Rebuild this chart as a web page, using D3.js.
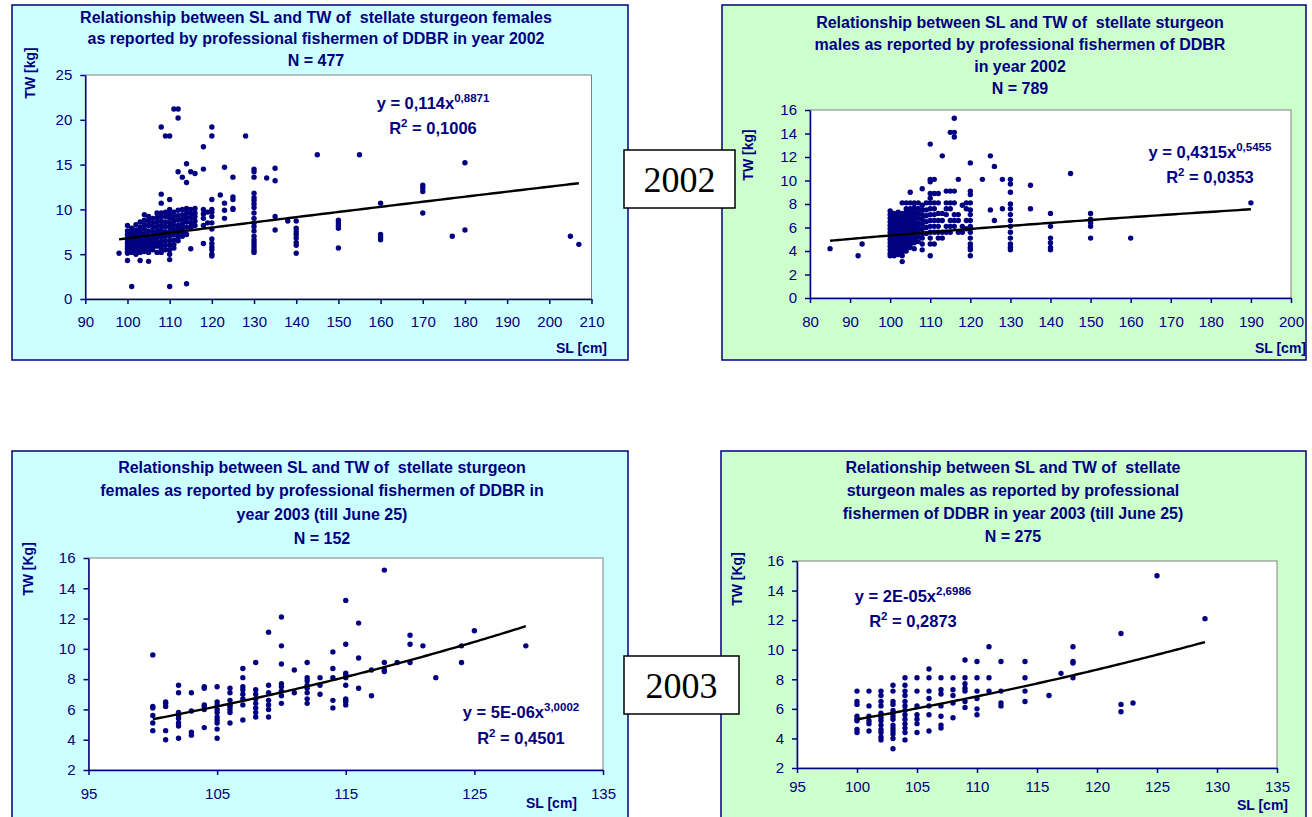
<!DOCTYPE html>
<html>
<head>
<meta charset="utf-8">
<script src="https://cdn.jsdelivr.net/npm/d3@7"></script>
<style>
  body { margin: 0; background: #fff; }
  text { white-space: pre; }
</style>
</head>
<body>
<svg id="chart" width="1312" height="817"></svg>
<script>
// --- data: [SL, [TW values at that SL]] ---
const fem2002 = [
  [98, [5.1]],
  [100, [8.2, 7.6, 7.2, 6.8, 6.5, 6.2, 5.9, 5.6, 5.3, 5.1, 4.3]],
  [101, [7.9, 7.4, 7.0, 6.6, 6.3, 6.0, 5.7, 5.4, 5.2, 1.4]],
  [102, [8.3, 7.7, 7.3, 6.9, 6.6, 6.1, 5.8, 5.5, 5.0]],
  [103, [8.6, 8.0, 7.5, 7.1, 6.8, 6.4, 6.0, 5.6, 5.2, 4.3]],
  [104, [9.4, 8.8, 8.3, 7.8, 7.3, 6.9, 6.5, 6.1, 5.7, 5.3]],
  [105, [9.2, 8.7, 8.2, 7.6, 7.1, 6.7, 6.3, 5.9, 5.4, 5.2, 4.2]],
  [106, [9.0, 8.5, 8.0, 7.5, 7.0, 6.6, 6.2, 5.8, 5.5]],
  [107, [9.6, 9.1, 8.6, 8.1, 7.6, 7.2, 6.8, 6.3, 5.9, 5.2]],
  [108, [19.2, 11.7, 10.7, 9.6, 9.2, 8.7, 8.2, 7.7, 7.3, 6.9, 6.4, 6.0, 5.6, 5.2]],
  [109, [18.2, 9.7, 9.2, 8.6, 8.1, 7.5, 7.0, 6.5, 6.0, 5.5]],
  [110, [18.2, 11.1, 10.0, 9.5, 9.0, 8.5, 8.0, 7.5, 7.0, 6.5, 6.0, 5.5, 5.0, 4.4, 1.4]],
  [111, [21.2, 9.7, 9.2, 8.7, 8.2, 7.7, 7.2, 6.6, 6.1, 5.7]],
  [112, [21.2, 20.2, 14.2, 9.9, 9.3, 8.8, 8.2, 7.8, 7.3, 6.9, 6.5]],
  [113, [13.6, 10.0, 9.4, 8.9, 8.4, 7.9, 7.5, 7.0]],
  [114, [15.1, 13.0, 10.1, 9.6, 9.1, 8.6, 8.0, 7.2, 1.7]],
  [115, [14.2, 10.0, 9.5, 9.0, 8.5, 8.0, 5.6]],
  [116, [14.0, 10.1, 9.6, 9.2, 8.7, 8.2]],
  [118, [17.0, 14.5, 10.0, 9.5, 9.0, 8.2, 6.2]],
  [119, [9.7, 8.5]],
  [120, [19.2, 18.2, 11.1, 10.0, 9.7, 9.2, 8.5, 7.8, 6.7, 6.2, 5.8, 5.5, 5.0, 4.8]],
  [122, [11.6]],
  [123, [14.7, 10.7, 9.9, 9.0]],
  [125, [13.6, 11.4, 11.1, 10.1, 10.0]],
  [128, [18.2]],
  [130, [14.5, 14.2, 13.6, 11.8, 11.3, 11.0, 10.6, 10.2, 9.6, 9.0, 8.5, 8.1, 7.6, 7.0, 6.6, 6.3, 6.0, 5.7, 5.4, 5.2]],
  [133, [13.5]],
  [135, [14.6, 13.2, 9.2, 7.7]],
  [138, [8.7]],
  [140, [8.7, 7.9, 7.5, 7.2, 6.8, 6.3, 6.0, 5.1]],
  [145, [16.1]],
  [150, [8.8, 8.5, 8.2, 7.9, 5.7]],
  [155, [16.1]],
  [160, [10.7, 7.2, 6.9, 6.6]],
  [170, [12.7, 12.4, 12.0, 9.6]],
  [177, [7.0]],
  [180, [15.2, 7.7]],
  [205, [7.0]],
  [207, [6.1]]
];

const male2002 = [
  [85, [4.2]],
  [92, [3.6]],
  [93, [4.6]],
  [100, [7.4, 7.1, 6.8, 6.5, 6.2, 5.9, 5.6, 5.3, 5.0, 4.7, 4.4, 4.1, 3.8, 3.6]],
  [101, [7.2, 6.9, 6.6, 6.3, 6.0, 5.7, 5.4, 5.1, 4.8, 4.5, 4.2, 3.9, 3.6]],
  [102, [7.3, 7.0, 6.7, 6.4, 6.1, 5.8, 5.5, 5.2, 4.9, 4.6, 4.3, 4.0, 3.7]],
  [103, [8.1, 7.2, 6.9, 6.6, 6.3, 6.0, 5.7, 5.4, 5.1, 4.8, 4.5, 4.2, 3.9, 3.6, 3.1]],
  [104, [8.1, 7.6, 7.3, 7.0, 6.7, 6.4, 6.1, 5.8, 5.5, 5.2, 4.9, 4.6, 4.3, 4.0]],
  [105, [9.0, 8.1, 7.6, 7.3, 7.0, 6.7, 6.4, 6.1, 5.8, 5.5, 5.2, 4.9, 4.6, 4.3]],
  [106, [8.1, 7.7, 7.4, 7.1, 6.8, 6.5, 6.2, 5.9, 5.6, 5.3, 5.0, 4.7, 4.2]],
  [107, [8.1, 7.6, 7.2, 6.8, 6.4, 6.0, 5.6, 5.2, 4.8]],
  [108, [9.3, 7.9, 7.5, 7.1, 6.7, 6.3, 5.9, 5.5, 5.1, 4.6, 4.1]],
  [109, [8.1, 7.5, 7.0, 6.5, 6.0, 5.5]],
  [110, [13.1, 10.1, 9.9, 8.9, 8.5, 8.1, 7.6, 7.1, 6.6, 6.1, 5.6, 5.1, 4.6, 3.6]],
  [111, [10.1, 8.9, 8.1, 7.6, 7.1, 6.6, 6.1, 5.6, 4.6]],
  [112, [8.9, 8.1, 7.2, 6.6, 6.1, 5.6, 5.1]],
  [113, [12.1, 7.2, 6.6, 5.6, 5.1]],
  [114, [9.1, 8.1, 7.6, 7.1, 6.1, 5.6]],
  [115, [14.1, 9.1, 8.1, 7.6, 6.6, 6.1, 5.6]],
  [116, [15.3, 14.1, 13.7, 9.1, 8.1, 7.1, 6.6, 6.1]],
  [117, [10.1, 7.1, 6.6, 5.6]],
  [118, [7.9, 6.1, 5.6]],
  [119, [8.1, 7.6, 6.6, 5.9]],
  [120, [11.5, 9.1, 8.8, 8.1, 7.5, 7.1, 6.6, 6.1, 5.6, 5.1, 4.6, 4.3, 4.1, 3.6]],
  [123, [10.1]],
  [125, [12.1, 7.5]],
  [126, [11.2, 6.6]],
  [128, [10.1, 7.6]],
  [130, [10.1, 9.7, 9.0, 8.0, 7.6, 7.1, 6.6, 6.1, 5.6, 5.1, 4.6, 4.3, 4.1]],
  [135, [9.6, 7.6]],
  [140, [7.2, 6.1, 5.1, 4.7, 4.3, 4.1]],
  [145, [10.6]],
  [150, [7.2, 6.7, 6.4, 6.1, 5.1]],
  [160, [5.1]],
  [190, [8.1]]
];

const fem2003 = [
  [100, [9.6, 6.2, 6.1, 5.6, 5.1, 4.6]],
  [101, [6.5, 6.4, 6.2, 4.6, 4.0]],
  [102, [7.6, 7.1, 5.8, 5.6, 5.4, 5.1, 4.9, 4.1]],
  [103, [7.1, 5.9, 4.5, 4.3]],
  [104, [7.5, 7.4, 6.3, 6.2, 6.0, 4.8]],
  [105, [7.5, 6.5, 6.3, 6.0, 5.8, 5.5, 5.3, 5.1, 4.7, 4.1]],
  [106, [7.4, 7.1, 6.6, 6.3, 6.2, 6.0, 5.8, 5.1]],
  [107, [8.7, 8.1, 7.5, 7.3, 7.0, 6.7, 6.3, 5.3]],
  [108, [9.1, 7.3, 7.0, 6.7, 6.4, 6.1, 5.8, 5.5]],
  [109, [11.1, 7.6, 7.1, 6.6, 6.3, 6.0, 5.5]],
  [110, [12.1, 10.2, 9.0, 7.7, 7.5, 7.2, 6.9, 6.4]],
  [111, [8.6, 7.1]],
  [112, [9.1, 8.1, 7.9, 7.6, 7.4, 7.1, 6.7, 6.4]],
  [113, [8.1, 7.6, 7.0]],
  [114, [9.8, 8.7, 8.1, 6.6, 6.1]],
  [115, [13.2, 10.3, 8.4, 8.3, 8.1, 7.6, 6.7, 6.6, 6.5, 6.3]],
  [116, [11.7, 9.4, 7.4]],
  [117, [8.6, 6.9]],
  [118, [15.2, 9.1, 8.6, 8.5]],
  [119, [9.1]],
  [120, [10.9, 10.3, 9.1]],
  [121, [10.2]],
  [122, [8.1]],
  [124, [10.2, 9.1]],
  [125, [11.2]],
  [129, [10.2]]
];

const male2003 = [
  [100, [7.2, 6.5, 6.3, 5.5, 5.3, 5.2, 4.6, 4.4]],
  [101, [7.2, 6.2, 5.5, 5.2, 5.0, 4.5]],
  [102, [7.2, 6.9, 6.5, 6.2, 5.7, 5.4, 5.2, 4.9, 4.6, 4.4, 4.1, 3.9]],
  [103, [7.6, 7.2, 6.5, 6.3, 5.9, 5.7, 5.5, 5.3, 4.9, 4.7, 4.5, 4.3, 4.0, 3.3]],
  [104, [8.1, 7.6, 7.2, 6.9, 6.5, 6.2, 5.9, 5.6, 5.3, 5.0, 4.7, 4.4, 3.9]],
  [105, [8.1, 7.2, 6.2, 5.6, 5.3, 5.0, 4.4]],
  [106, [8.7, 8.1, 7.2, 6.7, 6.2, 5.6, 4.5]],
  [107, [8.1, 7.3, 7.0, 6.2, 5.5, 4.9, 4.7]],
  [108, [8.1, 7.3, 6.9, 6.4, 5.4]],
  [109, [9.3, 8.1, 7.7, 7.4, 7.2, 6.5, 6.1]],
  [110, [9.2, 8.1, 7.2, 6.7, 6.0, 5.6]],
  [111, [10.2, 8.1, 7.2]],
  [112, [9.2, 7.2, 6.4, 6.2]],
  [114, [9.2, 8.1, 7.2, 6.5]],
  [116, [6.9]],
  [117, [8.4]],
  [118, [10.2, 9.2, 9.1, 8.1]],
  [122, [11.1, 6.3, 5.8]],
  [123, [6.4]],
  [125, [15.0]],
  [129, [12.1]]
];

// power trend lines: [a, b, first SL, last SL]
const trendFem2002 = [0.114, 0.8871, 98, 207];
const trendMale2002 = [0.4315, 0.5455, 85, 190];
const trendFem2003 = [5.35e-6, 3.0002, 100, 129];
const trendMale2003 = [2.12e-5, 2.6986, 100, 129];

// axis ticks
const ticksX2002f = [90, 100, 110, 120, 130, 140, 150, 160, 170, 180, 190, 200, 210];
const ticksY2002f = [0, 5, 10, 15, 20, 25];
const ticksX2002m = [80, 90, 100, 110, 120, 130, 140, 150, 160, 170, 180, 190, 200];
const ticksY2002m = [0, 2, 4, 6, 8, 10, 12, 14, 16];
const ticksX2003f = [95, 105, 115, 125, 135];
const ticksX2003m = [95, 100, 105, 110, 115, 120, 125, 130, 135];
const ticksY2003 = [2, 4, 6, 8, 10, 12, 14, 16];

const navy = "#000080";
const sans = "'Liberation Sans', Arial, sans-serif";
const svg = d3.select("#chart");

const panels = [
  {
    data: fem2002, trend: trendFem2002, bg: "#CCFFFF",
    frame: [12, 5, 616, 355],
    title: ["Relationship between SL and TW of  stellate sturgeon females",
            "as reported by professional fishermen of DDBR in year 2002", "N = 477"],
    titleX: 316, titleY: [17, 38, 60],
    xDomain: [90, 210], xRange: [85.3, 591.5], xTicks: ticksX2002f, xPad: 12,
    yDomain: [0, 25], yRange: [299, 75], yTicks: ticksY2002f,
    yLabel: "TW [kg]", yLabelPos: [30, 73], xLabelPos: [607, 348],
    eq: ["0,114", "0,8871", "0,1006"], eqPos: [433, 103, 128]
  },
  {
    data: male2002, trend: trendMale2002, bg: "#CCFFCC",
    frame: [722, 5, 584, 355],
    title: ["Relationship between SL and TW of  stellate sturgeon",
            "males as reported by professional fishermen of DDBR", "in year 2002", "N = 789"],
    titleX: 1020, titleY: [22, 44, 66, 88],
    xDomain: [80, 200], xRange: [810, 1291], xTicks: ticksX2002m, xPad: 13,
    yDomain: [0, 16], yRange: [298, 110], yTicks: ticksY2002m,
    yLabel: "TW [kg]", yLabelPos: [748, 155], xLabelPos: [1306, 348],
    eq: ["0,4315", "0,5455", "0,0353"], eqPos: [1210, 152, 177]
  },
  {
    data: fem2003, trend: trendFem2003, bg: "#CCFFFF",
    frame: [12, 451, 616, 380],
    title: ["Relationship between SL and TW of  stellate sturgeon",
            "females as reported by professional fishermen of DDBR in",
            "year 2003 (till June 25)", "N = 152"],
    titleX: 322, titleY: [467, 490, 514, 538],
    xDomain: [95, 135], xRange: [88.5, 603], xTicks: ticksX2003f, xPad: 13,
    yDomain: [2, 16], yRange: [770, 558], yTicks: ticksY2003,
    yLabel: "TW [Kg]", yLabelPos: [28, 569], xLabelPos: [577, 803],
    eq: ["5E-06", "3,0002", "0,4501"], eqPos: [521, 712, 738]
  },
  {
    data: male2003, trend: trendMale2003, bg: "#CCFFCC",
    frame: [721, 451, 585, 380],
    title: ["Relationship between SL and TW of  stellate",
            "sturgeon males as reported by professional",
            "fishermen of DDBR in year 2003 (till June 25)", "N = 275"],
    titleX: 1013, titleY: [467, 490, 513, 536],
    xDomain: [95, 135], xRange: [797, 1277], xTicks: ticksX2003m, xPad: 8,
    yDomain: [2, 16], yRange: [768, 561], yTicks: ticksY2003,
    yLabel: "TW [Kg]", yLabelPos: [737, 579], xLabelPos: [1288, 805],
    eq: ["2E-05", "2,6986", "0,2873"], eqPos: [913, 596, 621]
  }
];

function styleAxis(ax) {
  ax.attr("font-family", sans).attr("font-size", null);
  ax.select(".domain").attr("stroke", navy).attr("stroke-width", 1.5);
  ax.selectAll(".tick line").attr("stroke", navy).attr("stroke-width", 1.5);
  ax.selectAll(".tick text").attr("fill", navy).attr("font-size", 15);
}

panels.forEach(p => {
  const g = svg.append("g").attr("font-family", sans);
  g.append("rect")
    .attr("x", p.frame[0]).attr("y", p.frame[1])
    .attr("width", p.frame[2]).attr("height", p.frame[3])
    .attr("fill", p.bg).attr("stroke", navy).attr("stroke-width", 1.5);

  p.title.forEach((t, i) => {
    g.append("text")
      .attr("x", p.titleX).attr("y", p.titleY[i] + 6)
      .attr("text-anchor", "middle")
      .attr("font-size", 16).attr("font-weight", "bold")
      .attr("fill", navy)
      .text(t);
  });

  const x = d3.scaleLinear().domain(p.xDomain).range(p.xRange);
  const y = d3.scaleLinear().domain(p.yDomain).range(p.yRange);

  g.append("rect")
    .attr("x", p.xRange[0]).attr("y", p.yRange[1])
    .attr("width", p.xRange[1] - p.xRange[0])
    .attr("height", p.yRange[0] - p.yRange[1])
    .attr("fill", "#fff").attr("stroke", "#808080").attr("stroke-width", 1);

  const ax = g.append("g")
    .attr("transform", `translate(0,${p.yRange[0]})`)
    .call(d3.axisBottom(x).tickValues(p.xTicks).tickSize(5).tickSizeOuter(0).tickPadding(p.xPad));
  styleAxis(ax);

  const ay = g.append("g")
    .attr("transform", `translate(${p.xRange[0]},0)`)
    .call(d3.axisLeft(y).tickValues(p.yTicks).tickSize(5).tickSizeOuter(0).tickPadding(8));
  styleAxis(ay);

  // points
  const pts = p.data.flatMap(([sl, ws]) => ws.map(w => ({ sl, w })));
  g.append("g").selectAll("circle")
    .data(pts)
    .join("circle")
    .attr("cx", d => x(d.sl))
    .attr("cy", d => y(d.w))
    .attr("r", 2.7)
    .attr("fill", navy);

  // trend line
  const [a, b, x0, x1] = p.trend;
  const tx = d3.range(0, 101).map(i => x0 + (x1 - x0) * i / 100);
  g.append("path")
    .datum(tx)
    .attr("fill", "none")
    .attr("stroke", "#000")
    .attr("stroke-width", 2.4)
    .attr("d", d3.line().x(v => x(v)).y(v => y(a * Math.pow(v, b))));

  // axis titles
  g.append("text")
    .attr("transform", `translate(${p.yLabelPos[0]},${p.yLabelPos[1]}) rotate(-90)`)
    .attr("text-anchor", "middle").attr("dy", "0.35em")
    .attr("font-size", 14).attr("font-weight", "bold").attr("fill", navy)
    .text(p.yLabel);
  g.append("text")
    .attr("x", p.xLabelPos[0]).attr("y", p.xLabelPos[1]).attr("dy", "0.35em")
    .attr("text-anchor", "end")
    .attr("font-size", 14).attr("font-weight", "bold").attr("fill", navy)
    .text("SL [cm]");

  // equation and R²
  const eq = g.append("text")
    .attr("x", p.eqPos[0]).attr("y", p.eqPos[1] + 6)
    .attr("text-anchor", "middle")
    .attr("font-size", 16.5).attr("font-weight", "bold").attr("fill", navy);
  eq.append("tspan").text(`y = ${p.eq[0]}x`);
  eq.append("tspan").attr("dy", -7).attr("font-size", 11.5).text(p.eq[1]);

  const r2 = g.append("text")
    .attr("x", p.eqPos[0]).attr("y", p.eqPos[2] + 6)
    .attr("text-anchor", "middle")
    .attr("font-size", 16.5).attr("font-weight", "bold").attr("fill", navy);
  r2.append("tspan").text("R");
  r2.append("tspan").attr("dy", -7).attr("font-size", 11.5).text("2");
  r2.append("tspan").attr("dy", 7).text(` = ${p.eq[2]}`);
});

// year boxes
const years = [["2002", 624, 150, 111, 58], ["2003", 624, 656, 115, 58]];
years.forEach(([t, bx, by, bw, bh]) => {
  svg.append("rect")
    .attr("x", bx).attr("y", by).attr("width", bw).attr("height", bh)
    .attr("fill", "#fff").attr("stroke", "#000").attr("stroke-width", 1.5);
  svg.append("text")
    .attr("x", bx + bw / 2).attr("y", by + bh / 2).attr("dy", "0.35em")
    .attr("text-anchor", "middle")
    .attr("font-family", "'Liberation Serif', 'Times New Roman', serif")
    .attr("font-size", 36).attr("fill", "#000")
    .text(t);
});
</script>
</body>
</html>
